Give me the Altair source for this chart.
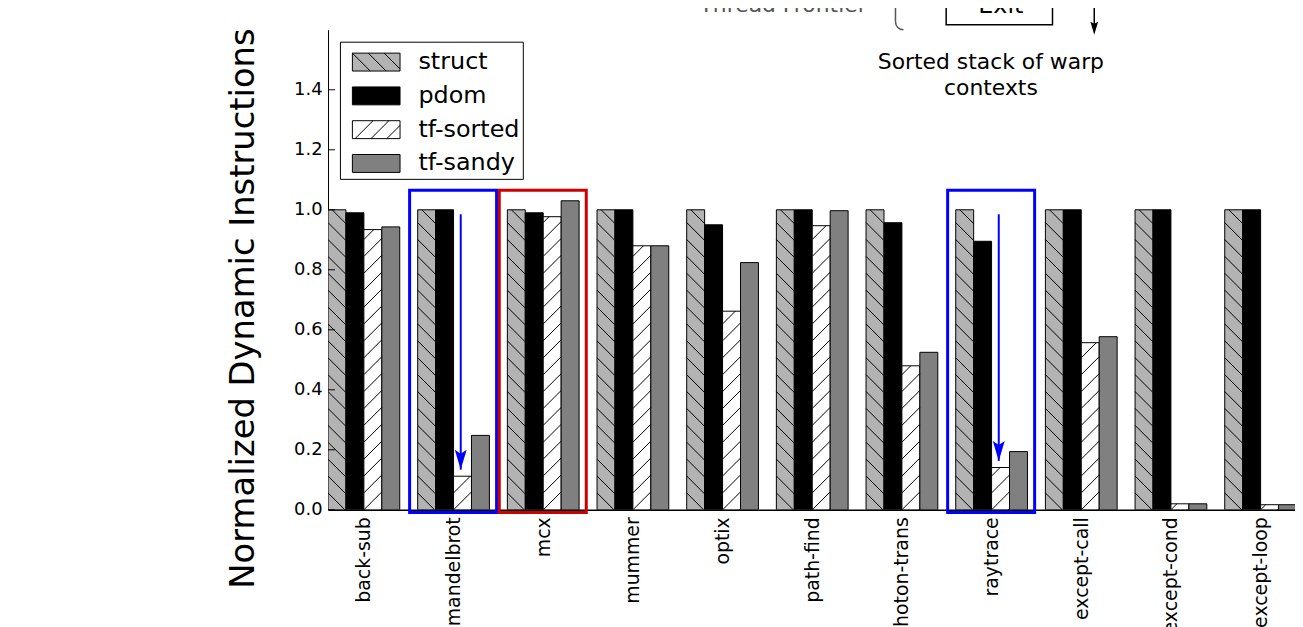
import math
import altair as alt
import pandas as pd

# ---------------- data ----------------
categories = ["back-sub", "mandelbrot", "mcx", "mummer", "optix", "path-find",
              "photon-trans", "raytrace", "except-call", "except-cond", "except-loop"]
series = ["struct", "pdom", "tf-sorted", "tf-sandy"]
struct = [1.0, 1.0, 1.0, 1.0, 1.0, 1.0, 1.0, 1.0, 1.0, 1.0, 1.0]
pdom = [0.99, 1.0, 0.99, 1.0, 0.95, 1.0, 0.957, 0.895, 1.0, 1.0, 1.0]
tf_sorted = [0.934, 0.112, 0.977, 0.88, 0.662, 0.947, 0.48, 0.141, 0.557, 0.02, 0.017]
tf_sandy = [0.943, 0.248, 1.03, 0.88, 0.824, 0.997, 0.525, 0.194, 0.577, 0.02, 0.017]
y_ticks = [0.0, 0.2, 0.4, 0.6, 0.8, 1.0, 1.2, 1.4]
highlighted = ["mandelbrot", "mcx", "raytrace"]
highlight_colors = ["#0000ff", "#cc0000", "#0000ff"]
arrow_categories = ["mandelbrot", "raytrace"]

# ---------------- styles ----------------
fills = ["#b3b3b3", "#000000", "#ffffff", "#808080"]
hatch = {"struct": "back", "tf-sorted": "fwd"}
FONT = "DejaVu Sans"
PLOT_W, PLOT_H = 973, 483
PX_PER_X = 90.23
X_MAX = PLOT_W / PX_PER_X
Y_MAX = 1.6
BAR_W = 0.2

values_by_series = dict(zip(series, [struct, pdom, tf_sorted, tf_sandy]))

rows = []
for i, c in enumerate(categories):
    for j, s in enumerate(series):
        rows.append(dict(category=c, series=s, x0=i + j * BAR_W,
                         x1=i + (j + 1) * BAR_W, value=values_by_series[s][i]))
bars = pd.DataFrame(rows)

# hatch lines (45 degrees in screen space) computed from the bars
px_y = PLOT_H / Y_MAX
d = BAR_W * PX_PER_X / px_y
sp = 17.0 / px_y
hrows = []
for r in rows:
    kind = hatch.get(r["series"])
    if not kind:
        continue
    v, x0 = r["value"], r["x0"]
    kmin = math.floor(-d / sp) - 1
    kmax = math.ceil((v + d) / sp) + 1
    for k in range(kmin, kmax + 1):
        c = k * sp
        if kind == "back":
            t0 = max(0.0, (c - v) / d)
            t1 = min(1.0, c / d)
            if t1 - t0 <= 1e-6:
                continue
            hrows.append(dict(hx0=x0 + t0 * BAR_W, hy0=c - d * t0,
                              hx1=x0 + t1 * BAR_W, hy1=c - d * t1))
        else:
            t0 = max(0.0, -c / d)
            t1 = min(1.0, (v - c) / d)
            if t1 - t0 <= 1e-6:
                continue
            hrows.append(dict(hx0=x0 + t0 * BAR_W, hy0=c + d * t0,
                              hx1=x0 + t1 * BAR_W, hy1=c + d * t1))
hatch_df = pd.DataFrame(hrows)

box_df = pd.DataFrame([
    dict(bx0=categories.index(c) - 0.09, bx1=categories.index(c) + 0.88,
         by0=-0.009, by1=1.065, col=col)
    for c, col in zip(highlighted, highlight_colors)
])
arrow_df = pd.DataFrame([
    dict(ax=categories.index(c) + 0.48, ay0=0.985,
         tip=tf_sorted[categories.index(c)] + 0.022)
    for c in arrow_categories
])
tick_df = pd.DataFrame({"tick": y_ticks})
one = pd.DataFrame({"a": [0]})

# ---------------- scales / axes ----------------
xscale = alt.Scale(domain=[0, X_MAX], nice=False, zero=False)
yscale = alt.Scale(domain=[0, Y_MAX], nice=False)
label_expr = "[" + ",".join("'%s'" % c for c in categories) + "][floor(datum.value)]"
xaxis = alt.Axis(values=[i + 0.4 for i in range(len(categories))], labelExpr=label_expr,
                 labelAngle=270, labelFontSize=19, labelPadding=7, tickSize=0,
                 grid=False, title=None, domainColor="black", domainWidth=1.5,
                 labelColor="black", labelOverlap=False, labelFlush=False, labelFont=FONT)
yaxis = alt.Axis(values=y_ticks, format=".1f", labelFontSize=18, labelPadding=6,
                 tickSize=0, grid=False, title="Normalized Dynamic Instructions",
                 titleFontSize=34, titleFontWeight="normal", titlePadding=33,
                 titleY=280, titleColor="black", labelColor="black", labelFlush=False,
                 domainColor="black", labelFont=FONT, titleFont=FONT)

rect_path = "M-1.41,-0.53H1.41V0.53H-1.41Z"
shape_paths = [
    rect_path + "M-1.41,-0.53L-0.35,0.53M-0.47,-0.53L0.59,0.53M0.47,-0.53L1.41,0.41",
    rect_path,
    rect_path + "M-1.25,0.53L-0.19,-0.53M-0.31,0.53L0.75,-0.53M0.63,0.53L1.41,-0.25",
    rect_path,
]
fill_scale = alt.Scale(domain=series, range=fills)
stroke_scale = alt.Scale(domain=series, range=["#000000"] * len(series))
shape_scale = alt.Scale(domain=series, range=shape_paths)
legend = alt.Legend(title=None, orient="none", legendX=12, legendY=12, padding=3,
                    strokeColor="black", fillColor="white", symbolSize=1156,
                    symbolOffset=16, labelOffset=25, labelFontSize=24, labelFont=FONT,
                    labelColor="black", rowPadding=4, symbolStrokeColor="black",
                    symbolStrokeWidth=1, symbolOpacity=1)

X = lambda f: alt.X(f, type="quantitative", scale=xscale, axis=xaxis)
Y = lambda f: alt.Y(f, type="quantitative", scale=yscale, axis=yaxis)

bar_layer = alt.Chart(bars).mark_bar(strokeWidth=1, clip=True).encode(
    x=X("x0"), x2="x1", y=Y("value"), y2=alt.datum(0),
    fill=alt.Fill("series:N", scale=fill_scale, legend=legend),
    stroke=alt.Stroke("series:N", scale=stroke_scale, legend=legend),
)
hatch_layer = alt.Chart(hatch_df).mark_rule(color="black", strokeWidth=1, clip=True).encode(
    x=X("hx0"), x2="hx1", y=Y("hy0"), y2="hy1",
)
legend_layer = alt.Chart(bars).mark_point(filled=True, opacity=0, strokeWidth=1).encode(
    x=X("x0"), y=Y("value"),
    fill=alt.Fill("series:N", scale=fill_scale, legend=legend),
    stroke=alt.Stroke("series:N", scale=stroke_scale, legend=legend),
    shape=alt.Shape("series:N", scale=shape_scale, legend=legend),
)
tick_layer = alt.Chart(tick_df).mark_rule(color="black", strokeWidth=1).encode(
    y=Y("tick"), x=alt.value(0), x2=alt.value(7),
)
box_layer = alt.Chart(box_df).mark_rect(fillOpacity=0, strokeWidth=3).encode(
    x=X("bx0"), x2="bx1", y=Y("by0"), y2="by1",
    stroke=alt.Stroke("col:N", scale=None),
)
arrow_line = alt.Chart(arrow_df).mark_rule(color="#0000ff", strokeWidth=2).encode(
    x=X("ax"), y=Y("ay0"), y2="tip",
)
arrow_head = alt.Chart(arrow_df).mark_point(
    shape="M0,1L-0.6,-1L0,-0.6L0.6,-1Z", filled=True, size=400, color="#0000ff",
    opacity=1, yOffset=-10,
).encode(x=X("ax"), y=Y("tip"))

# pieces of a neighbouring figure that appear at the top of the picture
thread_txt = alt.Chart(one).mark_text(text="Thread Frontier", align="right",
                                      baseline="alphabetic", fontSize=22, color="#555555",
                                      font=FONT).encode(x=alt.value(542), y=alt.value(-18))
brace_line = alt.Chart(one).mark_rule(color="#555555", strokeWidth=1.5).encode(
    x=alt.value(571), y=alt.value(-30), y2=alt.value(-8))
brace_arc = alt.Chart(one).mark_arc(radius=8.75, radius2=7.25, theta=3.1416, theta2=4.7124,
                                    color="#555555").encode(x=alt.value(579), y=alt.value(-8))
exit_box = alt.Chart(one).mark_rect(fillOpacity=0, stroke="black", strokeWidth=1.5).encode(
    x=alt.value(622), x2=alt.value(729), y=alt.value(-50), y2=alt.value(-5))
exit_txt = alt.Chart(one).mark_text(text="Exit", align="center", baseline="alphabetic",
                                    fontSize=24, color="black", font=FONT).encode(
    x=alt.value(677), y=alt.value(-17))
stack_arrow = alt.Chart(one).mark_rule(color="black", strokeWidth=1.5).encode(
    x=alt.value(771), y=alt.value(-30), y2=alt.value(0))
stack_head = alt.Chart(one).mark_point(shape="M0,1L-0.6,-1L0,-0.7L0.6,-1Z", filled=True,
                                       size=169, color="black", opacity=1).encode(
    x=alt.value(771), y=alt.value(-1.5))
stack_txt = alt.Chart(one).mark_text(text=["Sorted stack of warp", "contexts"],
                                     align="center", baseline="alphabetic", fontSize=22,
                                     lineHeight=27, color="black", font=FONT).encode(
    x=alt.value(667), y=alt.value(39))

chart = alt.layer(
    bar_layer, hatch_layer, legend_layer, tick_layer, box_layer, arrow_line, arrow_head,
    thread_txt, brace_line, brace_arc, exit_box, exit_txt, stack_arrow, stack_head, stack_txt,
).properties(
    width=PLOT_W, height=PLOT_H,
    autosize=alt.AutoSizeParams(type="none"),
    padding={"left": 322, "top": 20, "right": 0, "bottom": 116},
).configure(font=FONT).configure_view(strokeWidth=0)

chart.save("out.html", embed_options={"renderer": "svg", "actions": False})
